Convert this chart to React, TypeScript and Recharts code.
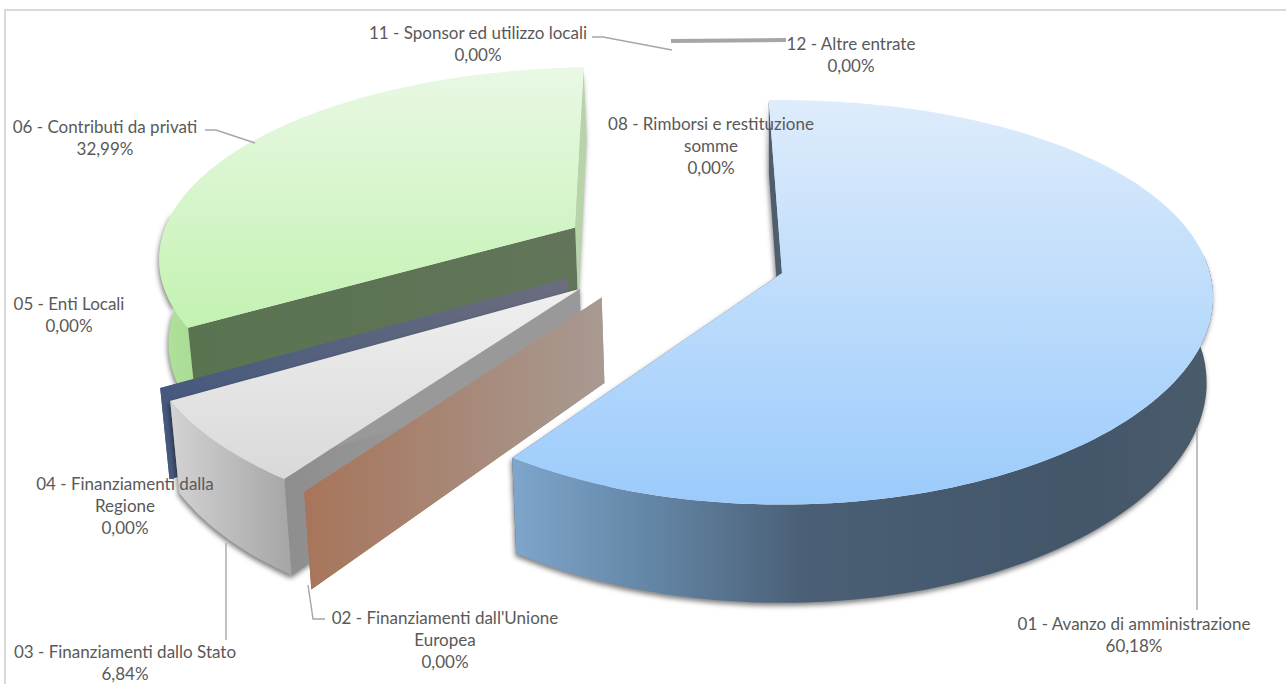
import React from 'react'
import { PieChart, Pie } from 'recharts'

const categories = [
  '01 - Avanzo di amministrazione',
  "02 - Finanziamenti dall'Unione Europea",
  '03 - Finanziamenti dallo Stato',
  '04 - Finanziamenti dalla Regione',
  '05 - Enti Locali',
  '06 - Contributi da privati',
  '08 - Rimborsi e restituzione somme',
  '11 - Sponsor ed utilizzo locali',
  '12 - Altre entrate'
]
const values = [60.18, 0, 6.84, 0, 0, 32.99, 0, 0, 0]

const pieData = categories.map((name, i) => ({ name, value: values[i] }))

const CX = 782
const CY = 273
const R = 428
const TILT = 198 // screen height of the radius
const DEPTH = 84
const PX = 0.12
const PY = 0.145

// explode offset (in radii) and fills per slice, listed back to front
const sliceStyles = [
  { cat: 5, eu: -0.497, ev: 0.238, scale: 0.985, top: 'url(#greenTop)', wall: 'url(#greenWall)', startFace: 'url(#greenFace)', endFace: '#b6d3aa' },
  { cat: 4, eu: -0.5, ev: -0.025, scale: 1, top: null, wall: null, startFace: 'url(#navyFace)', endFace: 'url(#navyFace)' },
  { cat: 2, eu: -0.4687, ev: -0.08, scale: 1, top: 'url(#greyTop)', wall: 'url(#greyWall)', startFace: 'url(#greyFace)', endFace: '#999999' },
  { cat: 1, eu: -0.415, ev: -0.122, scale: 1.01, top: null, wall: null, startFace: 'url(#brownFace)', endFace: 'url(#brownFace)' },
  { cat: 0, eu: 0, ev: 0, scale: 1, top: 'url(#blueTop)', wall: 'url(#blueWall)', startFace: '#4f5e6e', endFace: '#4f5e6e' }
]

const labelBlocks = [
  { x: 1134, y: 625, lines: ['01 - Avanzo di amministrazione'], leader: { points: '1197,428 1197,610', width: 1.4 } },
  { x: 445, y: 619, lines: ["02 - Finanziamenti dall'Unione", 'Europea'], leader: { points: '308,585 312,612 313,619 325,619', width: 1.4 } },
  { x: 125, y: 653, lines: ['03 - Finanziamenti dallo Stato'], leader: { points: '226,543 226,640', width: 1.4 } },
  { x: 125, y: 485, lines: ['04 - Finanziamenti dalla', 'Regione'], leader: null },
  { x: 69, y: 305, lines: ['05 - Enti Locali'], leader: null },
  { x: 105, y: 128, lines: ['06 - Contributi da privati'], leader: { points: '205,130 216,130 255,143', width: 1.4 } },
  { x: 711, y: 125, lines: ['08 - Rimborsi e restituzione', 'somme'], leader: null },
  { x: 478, y: 34, lines: ['11 - Sponsor ed utilizzo locali'], leader: { points: '592,37 603,37 672,50', width: 1.4 } },
  { x: 851, y: 45, lines: ['12 - Altre entrate'], leader: { points: '671,41 786,40', width: 4 } }
]

const fmtPct = (v: number) => v.toFixed(2).replace('.', ',') + '%'

// perspective projection of a disk point, u and v in radii, z 0 = top, 1 = bottom
const project = (u: number, v: number, z: number) => {
  const x = CX + (u * R) / (1 + PX * v)
  const y = CY - (TILT * v) / (1 + PY * v)
  return {
    x: z ? CX + (x - CX) * 0.985 : x,
    y: y + (z * DEPTH) / (1 + PY * v)
  }
}

const toPath = (pts: { x: number; y: number }[]) =>
  pts.map((p, i) => `${i ? 'L' : 'M'}${p.x.toFixed(1)},${p.y.toFixed(1)}`).join(' ') + ' Z'

const rad = (a: number) => (a * Math.PI) / 180

const SliceShape = (props: any, style: (typeof sliceStyles)[number]) => {
  if (props.name !== categories[style.cat]) return <g />
  const { startAngle, endAngle } = props
  const edge = (a: number, z: number) =>
    project(style.eu + style.scale * Math.cos(rad(a)), style.ev + style.scale * Math.sin(rad(a)), z)
  const apex = (z: number) => project(style.eu, style.ev, z)

  const arc: number[] = []
  const n = Math.max(1, Math.ceil(Math.abs(startAngle - endAngle) / 1.5))
  for (let i = 0; i <= n; i++) arc.push(startAngle + ((endAngle - startAngle) * i) / n)
  // the far side of the rim is hidden by the top, and would only throw a stray shadow
  const nearArc = arc.filter((a) => Math.sin(rad(a)) < 0.1)

  const face = (a: number) => toPath([apex(0), edge(a, 0), edge(a, 1), apex(1)])
  const wall = toPath([...nearArc.map((a) => edge(a, 0)), ...[...nearArc].reverse().map((a) => edge(a, 1))])
  const top = toPath([apex(0), ...arc.map((a) => edge(a, 0))])

  return (
    <g>
      <g style={style.top ? { filter: 'drop-shadow(-1px 3px 2.5px rgba(0,0,0,0.5))' } : undefined}>
        <path d={face(startAngle)} fill={style.startFace} />
        <path d={face(endAngle)} fill={style.endFace} />
        {style.wall && <path d={wall} fill={style.wall} />}
      </g>
      {style.top && <path d={top} fill={style.top} />}
    </g>
  )
}

// Pie labels are painted above every sector, so text and leaders go here
const renderLabel = ({ index }: any) => {
  const b = labelBlocks[index]
  return (
    <g key={index} fontFamily="Lato, Carlito, sans-serif" fontSize={17} fill="#595959" textAnchor="middle">
      {b.leader && <polyline points={b.leader.points} fill="none" stroke="#a6a6a6" strokeWidth={b.leader.width} />}
      <text x={b.x} y={b.y + 5}>
        {[...b.lines, fmtPct(values[index])].map((line, i) => (
          <tspan key={i} x={b.x} dy={i ? 22 : 0}>
            {line}
          </tspan>
        ))}
      </text>
    </g>
  )
}

const hGrad = (id: string, x1: number, x2: number, stops: [number, string][]) => (
  <linearGradient id={id} gradientUnits="userSpaceOnUse" x1={x1} x2={x2} y1={0} y2={0}>
    {stops.map(([o, c]) => (
      <stop key={o} offset={o} stopColor={c} />
    ))}
  </linearGradient>
)
const vGrad = (id: string, y1: number, y2: number, from: string, to: string) => (
  <linearGradient id={id} gradientUnits="userSpaceOnUse" x1={0} x2={0} y1={y1} y2={y2}>
    <stop offset={0} stopColor={from} />
    <stop offset={1} stopColor={to} />
  </linearGradient>
)

export default function App() {
  return (
    <div style={{ position: 'absolute', left: 0, top: 0, width: 1286, height: 684, background: '#fff' }}>
      <PieChart width={1286} height={684} margin={{ top: 0, right: 0, bottom: 0, left: 0 }}>
        <defs>
          {vGrad('blueTop', 100, 505, '#deecfb', '#9bcbfb')}
          {vGrad('greenTop', 68, 380, '#e9f8e4', '#bbf1a7')}
          {vGrad('greyTop', 293, 478, '#efefef', '#d9d9d9')}
          {hGrad('blueWall', 510, 1210, [[0, '#7fa6cc'], [0.2, '#6486a6'], [0.42, '#4a5f75'], [0.8, '#43566a'], [1, '#4a5b6b']])}
          {hGrad('greenWall', 160, 260, [[0, '#b0e29b'], [1, '#9ed089']])}
          {hGrad('greyWall', 172, 290, [[0, '#d2d2d2'], [1, '#a6a6a6']])}
          {hGrad('greyFace', 285, 585, [[0, '#8e8e8e'], [1, '#a6a6a6']])}
          {hGrad('greenFace', 185, 580, [[0, '#59734f'], [1, '#62755a']])}
          {hGrad('navyFace', 160, 575, [[0, '#46597e'], [1, '#6c6e7e']])}
          {hGrad('brownFace', 300, 605, [[0, '#a7745a'], [1, '#a89a92']])}
        </defs>
        <rect x={5} y={10} width={1300} height={700} fill="#fff" stroke="#d9d9d9" strokeWidth={2} />
        {sliceStyles.map((style) => (
          <Pie
            key={style.cat}
            data={pieData}
            dataKey="value"
            nameKey="name"
            cx={CX}
            cy={CY}
            outerRadius={R}
            startAngle={92}
            endAngle={-268}
            stroke="none"
            isAnimationActive={false}
            labelLine={false}
            label={style.cat === 0 ? renderLabel : false}
            shape={(props: any) => SliceShape(props, style)}
          />
        ))}
      </PieChart>
    </div>
  )
}
